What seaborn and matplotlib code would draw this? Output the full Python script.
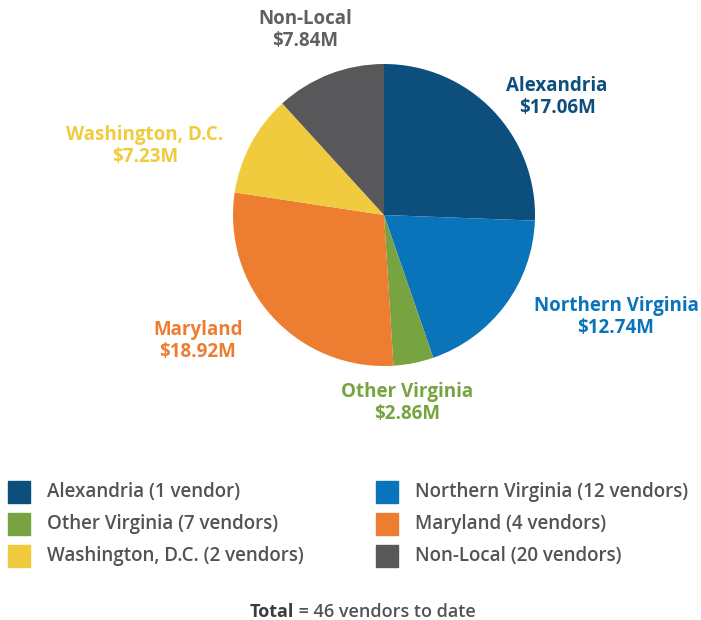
import matplotlib
matplotlib.use("Agg")
import matplotlib.pyplot as plt
from matplotlib.patches import Rectangle
import seaborn as sns

# data
regions = ["Alexandria", "Northern Virginia", "Other Virginia", "Maryland", "Washington, D.C.", "Non-Local"]
spend = [17.06, 12.74, 2.86, 18.92, 7.23, 7.84]  # $M
vendors = [1, 12, 7, 4, 2, 20]
colors = ["#0d4f7c", "#0a74ba", "#77a440", "#ec7d31", "#f0cb3e", "#58585a"]
total_vendors = 46

sns.set_theme(style="white")
plt.rcParams["font.family"] = ["Open Sans", "DejaVu Sans"]

W, H = 701, 620
fig = plt.figure(figsize=(W / 100, H / 100), dpi=100)

# pie centred at (384, 215) px, radius ~151 px
cx, cy, r = 384, 215, 151
ax = fig.add_axes([(cx - r) / W, (H - cy - r) / H, 2 * r / W, 2 * r / H])
ax.pie(spend, colors=colors, startangle=90, counterclock=False,
       wedgeprops=dict(linewidth=0))
ax.set_xlim(-1, 1)
ax.set_ylim(-1, 1)
ax.set_aspect("equal")
ax.axis("off")

# slice labels (pixel centres of the two-line labels)
label_pos = [(557, 97), (616, 317), (407, 403), (198, 341), (145, 146), (305, 30)]
for name, val, col, (px, py) in zip(regions, spend, colors, label_pos):
    c = "#606062" if name == "Non-Local" else col
    fig.text(px / W, 1 - py / H, f"{name}\n${val:.2f}M", ha="center", va="center",
             fontsize=13.5, fontweight="bold", color=c, linespacing=1.1)

# legend, two columns, row-major order
sq = 22
for i, (name, n, col) in enumerate(zip(regions, vendors, colors)):
    row, colm = divmod(i, 2)
    x0 = 8 if colm == 0 else 376
    yc = 492 + row * 32
    fig.patches.append(Rectangle((x0 / W, 1 - (yc + sq / 2) / H), sq / W, sq / H,
                                 transform=fig.transFigure, color=col, figure=fig))
    word = "vendor" if n == 1 else "vendors"
    fig.text((x0 + 39) / W, 1 - yc / H, f"{name} ({n} {word})", ha="left", va="center",
             fontsize=13.5, fontweight="semibold", color="#525355")

# total line, centred around x ~360 px
tx = (360 - 66) / W
fig.text(tx, 1 - 612 / H, "Total", ha="right", va="center", fontsize=13,
         fontweight="bold", color="#3c3c3e")
fig.text(tx, 1 - 612 / H, f" = {total_vendors} vendors to date", ha="left", va="center",
         fontsize=13, fontweight="semibold", color="#525355")

fig.savefig("out.png", dpi=100, facecolor="white")
